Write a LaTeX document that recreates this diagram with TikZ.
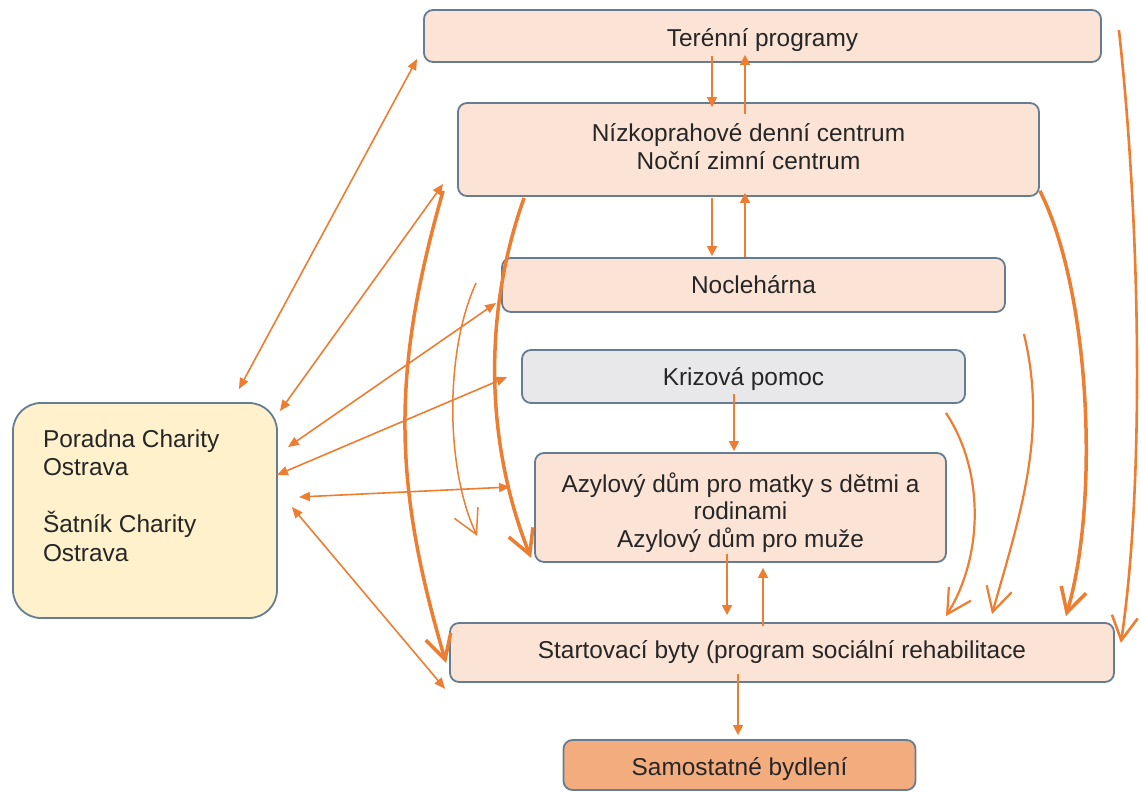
\documentclass[tikz,border=0pt]{standalone}
\usepackage{fontspec}
\setmainfont{Liberation Sans}
\usetikzlibrary{arrows.meta,calc}
\definecolor{arr}{HTML}{ED7D31}
\definecolor{bord}{HTML}{667C93}
\definecolor{peach}{HTML}{FBE3D5}
\definecolor{greyfill}{HTML}{E8E8EA}
\definecolor{yellowfill}{HTML}{FFF1CC}
\definecolor{orangefill}{HTML}{F3AC7E}
\definecolor{txt}{HTML}{262626}
\begin{document}
\begin{tikzpicture}[x=1pt,y=-1pt,
  box/.style={draw=bord, line width=1.8pt, rounded corners=9pt, fill=peach, inner sep=0pt,
    text=txt, font=\fontsize{24.4}{27.5}\selectfont, align=center},
  thin/.style={draw=arr, line width=1.6pt},
  tip/.style={-{Triangle[length=10pt,width=10pt]}},
  both/.style={{Triangle[length=11pt,width=9pt]}-{Triangle[length=11pt,width=9pt]}},
  curv/.style={draw=arr, -{Straight Barb[length=24pt,width=26pt]}},
]
\useasboundingbox (0,0) rectangle (1141,792);

% boxes
\node[box, minimum width=677pt, minimum height=52pt, text height=21pt, text depth=0pt] (ter) at (762.5,36) {Terénní programy};
\node[box, minimum width=581pt, minimum height=93pt, text height=45pt, text depth=6pt] (ndc) at (748.5,149.5) {Nízkoprahové denní centrum\\Noční zimní centrum};
\node[box, minimum width=503pt, minimum height=54pt, text height=16pt, text depth=0pt] (noc) at (753.5,285) {Noclehárna};
\node[box, fill=greyfill, minimum width=443pt, minimum height=53pt, text height=17pt, text depth=0pt] (kriz) at (743.5,376.5) {Krizová pomoc};
\node[box, minimum width=411pt, minimum height=109pt, text height=85pt, text depth=6pt] (azyl) at (740.5,507.5) {Azylový dům pro matky s dětmi a\\rodinami\\Azylový dům pro muže};
\node[box, minimum width=664pt, minimum height=59pt, text height=11.6pt, text depth=0pt] (start) at (782,652.5) {Startovací byty (program sociální rehabilitace};
\node[box, fill=orangefill, minimum width=352pt, minimum height=50pt, text height=20pt, text depth=0pt] (sam) at (739.5,765) {Samostatné bydlení};
\node[box, fill=yellowfill, rounded corners=28pt, minimum width=264pt, minimum height=215pt,
  text width=204pt, align=flush left, text height=10pt, text depth=137pt,
  font=\fontsize{24.4}{28.5}\selectfont] (por) at (145,510.5) {Poradna Charity\\Ostrava\\[28.5pt]Šatník Charity\\Ostrava};

% Poradna connectors
\draw[thin, both] ($(ter.south west)+(-6,-4)$) -- ($(por.north east)+(-39,-13)$);
\draw[thin, both] ($(ndc.south west)+(-14,-13)$) -- ($(por.north east)+(2,9)$);
\draw[thin, both] ($(noc.south west)+(-5,-10)$) -- ($(por.north east)+(10,45)$);
\draw[thin, both] ($(kriz.west)+(-14,0.5)$) -- ($(por.east)+(-1,-35.5)$);
\draw[thin, both] ($(azyl.west)+(-24,-20.5)$) -- ($(por.east)+(21,-13.5)$);
\draw[thin, both] ($(start.south west)+(-4,6)$) -- ($(por.east)+(14,-3.5)$);

% vertical connectors
\draw[thin, tip] ($(ter.south)+(-50.5,-7)$) -- ($(ndc.north)+(-36.5,5)$);
\draw[thin, tip] ($(ndc.north)+(-3.5,12)$) -- ($(ter.south)+(-17.5,-8)$);
\draw[thin, tip] ($(ndc.south)+(-36.5,1)$) -- ($(noc.north)+(-41.5,-1)$);
\draw[thin, tip] ($(noc.north)+(-8.5,0)$) -- ($(ndc.south)+(-3.5,-4)$);
\draw[thin, tip] ($(kriz.south)+(-9.5,-10)$) -- ($(azyl.north)+(-6.5,-1)$);
\draw[thin, tip] ($(azyl.south)+(-13.5,-9)$) -- ($(start.north)+(-55,-7)$);
\draw[thin, tip] ($(start.north)+(-19,4)$) -- ($(azyl.south)+(22.5,5)$);
\draw[thin, tip] ($(start.south)+(-44,-9)$) -- ($(sam.north)+(-1.5,-4)$);

% curved connectors
\draw[curv, line width=3.5pt] ($(ndc.south west)+(-14,-6)$) .. controls (392,370) and (392,480) .. ($(start.west)+(-3,10.5)$);
\draw[curv, line width=3.5pt] ($(ndc.south west)+(67,1)$) .. controls (484,310) and (484,440) .. ($(azyl.south west)+(-3,-5)$);
\draw[curv, line width=1.5pt] ($(noc.west)+(-25,-2)$) .. controls (445,350) and (445,468) .. ($(azyl.south west)+(-57,-27)$);
\draw[curv, line width=2.2pt] ($(kriz.south east)+(-20,9)$) .. controls (984,470) and (984,555) .. ($(start.north)+(164,-6)$);
\draw[curv, line width=2.2pt] ($(noc.south east)+(18,21)$) .. controls (1048,433) and (1020,515) .. ($(start.north)+(210,-8)$);
\draw[curv, line width=3.5pt] ($(ndc.south east)+(0,-6)$) .. controls (1090,290) and (1100,500) .. ($(start.north east)+(-49,-6)$);
\draw[curv, line width=2.6pt] ($(ter.east)+(17,-6)$) .. controls (1140,220) and (1145,480) .. ($(start.east)+(6,-9.5)$);
\end{tikzpicture}
\end{document}
